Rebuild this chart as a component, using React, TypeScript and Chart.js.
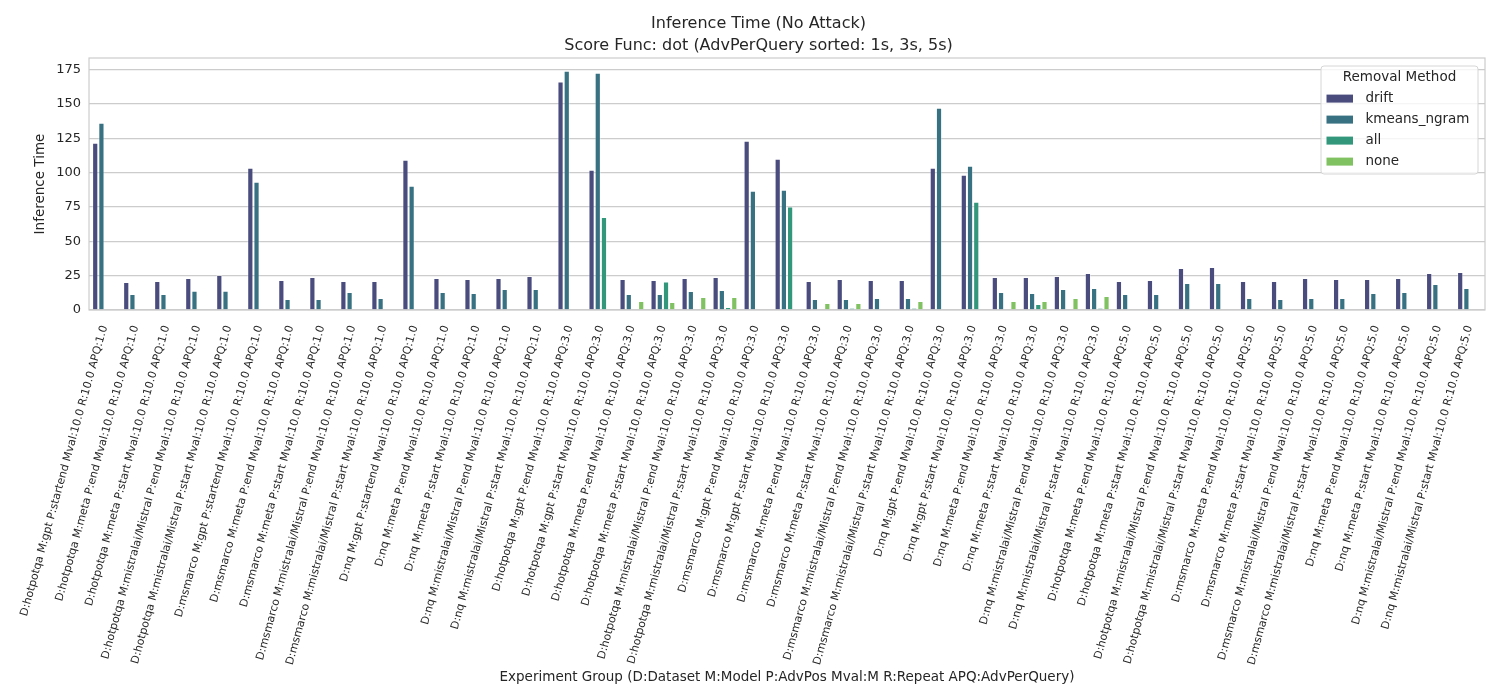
import { useEffect, useRef } from "react";
import { Chart, registerables } from "chart.js";

Chart.register(...registerables);

const groups = [
  "D:hotpotqa M:gpt P:startend Mval:10.0 R:10.0 APQ:1.0",
  "D:hotpotqa M:meta P:end Mval:10.0 R:10.0 APQ:1.0",
  "D:hotpotqa M:meta P:start Mval:10.0 R:10.0 APQ:1.0",
  "D:hotpotqa M:mistralai/Mistral P:end Mval:10.0 R:10.0 APQ:1.0",
  "D:hotpotqa M:mistralai/Mistral P:start Mval:10.0 R:10.0 APQ:1.0",
  "D:msmarco M:gpt P:startend Mval:10.0 R:10.0 APQ:1.0",
  "D:msmarco M:meta P:end Mval:10.0 R:10.0 APQ:1.0",
  "D:msmarco M:meta P:start Mval:10.0 R:10.0 APQ:1.0",
  "D:msmarco M:mistralai/Mistral P:end Mval:10.0 R:10.0 APQ:1.0",
  "D:msmarco M:mistralai/Mistral P:start Mval:10.0 R:10.0 APQ:1.0",
  "D:nq M:gpt P:startend Mval:10.0 R:10.0 APQ:1.0",
  "D:nq M:meta P:end Mval:10.0 R:10.0 APQ:1.0",
  "D:nq M:meta P:start Mval:10.0 R:10.0 APQ:1.0",
  "D:nq M:mistralai/Mistral P:end Mval:10.0 R:10.0 APQ:1.0",
  "D:nq M:mistralai/Mistral P:start Mval:10.0 R:10.0 APQ:1.0",
  "D:hotpotqa M:gpt P:end Mval:10.0 R:10.0 APQ:3.0",
  "D:hotpotqa M:gpt P:start Mval:10.0 R:10.0 APQ:3.0",
  "D:hotpotqa M:meta P:end Mval:10.0 R:10.0 APQ:3.0",
  "D:hotpotqa M:meta P:start Mval:10.0 R:10.0 APQ:3.0",
  "D:hotpotqa M:mistralai/Mistral P:end Mval:10.0 R:10.0 APQ:3.0",
  "D:hotpotqa M:mistralai/Mistral P:start Mval:10.0 R:10.0 APQ:3.0",
  "D:msmarco M:gpt P:end Mval:10.0 R:10.0 APQ:3.0",
  "D:msmarco M:gpt P:start Mval:10.0 R:10.0 APQ:3.0",
  "D:msmarco M:meta P:end Mval:10.0 R:10.0 APQ:3.0",
  "D:msmarco M:meta P:start Mval:10.0 R:10.0 APQ:3.0",
  "D:msmarco M:mistralai/Mistral P:end Mval:10.0 R:10.0 APQ:3.0",
  "D:msmarco M:mistralai/Mistral P:start Mval:10.0 R:10.0 APQ:3.0",
  "D:nq M:gpt P:end Mval:10.0 R:10.0 APQ:3.0",
  "D:nq M:gpt P:start Mval:10.0 R:10.0 APQ:3.0",
  "D:nq M:meta P:end Mval:10.0 R:10.0 APQ:3.0",
  "D:nq M:meta P:start Mval:10.0 R:10.0 APQ:3.0",
  "D:nq M:mistralai/Mistral P:end Mval:10.0 R:10.0 APQ:3.0",
  "D:nq M:mistralai/Mistral P:start Mval:10.0 R:10.0 APQ:3.0",
  "D:hotpotqa M:meta P:end Mval:10.0 R:10.0 APQ:5.0",
  "D:hotpotqa M:meta P:start Mval:10.0 R:10.0 APQ:5.0",
  "D:hotpotqa M:mistralai/Mistral P:end Mval:10.0 R:10.0 APQ:5.0",
  "D:hotpotqa M:mistralai/Mistral P:start Mval:10.0 R:10.0 APQ:5.0",
  "D:msmarco M:meta P:end Mval:10.0 R:10.0 APQ:5.0",
  "D:msmarco M:meta P:start Mval:10.0 R:10.0 APQ:5.0",
  "D:msmarco M:mistralai/Mistral P:end Mval:10.0 R:10.0 APQ:5.0",
  "D:msmarco M:mistralai/Mistral P:start Mval:10.0 R:10.0 APQ:5.0",
  "D:nq M:meta P:end Mval:10.0 R:10.0 APQ:5.0",
  "D:nq M:meta P:start Mval:10.0 R:10.0 APQ:5.0",
  "D:nq M:mistralai/Mistral P:end Mval:10.0 R:10.0 APQ:5.0",
  "D:nq M:mistralai/Mistral P:start Mval:10.0 R:10.0 APQ:5.0",
];

const methods = ["drift", "kmeans_ngram", "all", "none"];

const drift = [
  121.8, 20.4, 21.1, 23.3, 25.5, 103.5, 21.9, 24.1, 21.1, 21.1,
  109.4, 23.3, 22.6, 23.3, 24.8, 166.3, 102.1, 22.6, 21.9, 23.3,
  24.1, 123.2, 110.1, 21.1, 22.6, 21.9, 21.9, 103.5, 98.4, 24.1,
  24.1, 24.8, 27.0, 21.1, 21.9, 30.6, 31.4, 21.1, 21.1, 23.3,
  22.6, 22.6, 23.3, 27.0, 27.7,
];

const kmeansNgram = [
  136.4, 11.7, 11.7, 14.1, 14.1, 93.3, 8.0, 8.0, 13.1, 8.8,
  90.4, 13.1, 12.4, 15.3, 15.3, 174.3, 172.8, 11.7, 11.7, 13.9,
  14.6, 86.8, 87.5, 8.0, 8.0, 8.8, 8.8, 147.3, 105.0, 13.1,
  12.4, 15.3, 16.0, 11.7, 11.7, 19.7, 19.7, 8.8, 8.0, 8.8,
  8.8, 12.4, 13.1, 19.0, 16.0,
];

const allRemoved = [
  null, null, null, null, null, null, null, null, null, null,
  null, null, null, null, null, null, 67.8, null, 20.8, null,
  2.2, null, 75.3, null, 1.5, null, 1.5, null, 78.8, null,
  4.4, null, 1.5, null, null, null, null, null, null, null,
  null, null, null, null, null,
];

const noneRemoved = [
  null, null, null, null, null, null, null, null, null, null,
  null, null, null, null, null, null, null, 6.6, 5.8, 9.5,
  9.5, null, null, 5.1, 5.1, null, 6.6, null, null, 6.6,
  6.6, 8.8, 10.2, null, null, null, null, null, null, null,
  null, null, null, null, null,
];

const yTicks = [0, 25, 50, 75, 100, 125, 150, 175];

const colors = ["#4a4c7e", "#377182", "#33977c", "#80c161"];
const font = "'DejaVu Sans', sans-serif";
const textColor = "#262626";

const frameAndLegend = {
  id: "frameAndLegend",
  afterDatasetsDraw(chart: any) {
    const { ctx, chartArea } = chart;
    ctx.save();
    ctx.strokeStyle = "#cccccc";
    ctx.lineWidth = 1.2;
    ctx.strokeRect(chartArea.left, chartArea.top, chartArea.right - chartArea.left, chartArea.bottom - chartArea.top);
    ctx.restore();
  },
  afterDraw(chart: any) {
    const { ctx, chartArea } = chart;
    const w = 157;
    const h = 108;
    const x = chartArea.right - 7 - w;
    const y = chartArea.top + 8;
    ctx.save();
    ctx.fillStyle = "rgba(255,255,255,0.8)";
    ctx.strokeStyle = "#d6d6d6";
    ctx.lineWidth = 1;
    ctx.beginPath();
    ctx.roundRect(x, y, w, h, 3);
    ctx.fill();
    ctx.stroke();
    ctx.font = `13.5px ${font}`;
    ctx.fillStyle = textColor;
    ctx.textAlign = "center";
    ctx.textBaseline = "middle";
    ctx.fillText("Removal Method", x + w / 2, y + 11);
    chart.data.datasets.forEach((ds: any, i: number) => {
      const cy = y + 32.6 + i * 21;
      ctx.fillStyle = ds.backgroundColor;
      ctx.fillRect(x + 5.5, cy - 4, 26.5, 8);
      ctx.fillStyle = textColor;
      ctx.textAlign = "left";
      ctx.fillText(ds.label, x + 44.5, cy);
    });
    ctx.restore();
  },
};

export default function App() {
  const canvasRef = useRef<HTMLCanvasElement>(null);

  useEffect(() => {
    document.body.style.margin = "0";
    if (!canvasRef.current) return;
    const series = [drift, kmeansNgram, allRemoved, noneRemoved];
    const chart = new Chart(canvasRef.current, {
      type: "bar",
      data: {
        labels: groups,
        datasets: methods.map((m, i) => ({
          label: m,
          data: series[i] as any,
          backgroundColor: colors[i],
          borderColor: "rgba(255,255,255,0.35)",
          borderWidth: 1,
          categoryPercentage: 0.8,
          barPercentage: 1.0,
        })),
      },
      options: {
        responsive: true,
        maintainAspectRatio: false,
        animation: false,
        layout: { padding: { left: 32, right: 15, top: 0, bottom: 14 } },
        plugins: {
          legend: { display: false },
          tooltip: { enabled: false },
          title: {
            display: true,
            text: ["Inference Time (No Attack)", "Score Func: dot (AdvPerQuery sorted: 1s, 3s, 5s)"],
            color: textColor,
            font: { family: font, size: 16, weight: "normal", lineHeight: 1.375 },
            padding: { top: 13, bottom: 1 },
          },
        },
        scales: {
          x: {
            grid: { display: false },
            border: { display: false },
            afterFit: (scale: any) => {
              scale.height = 376;
            },
            ticks: {
              color: textColor,
              font: { family: font, size: 11 },
              minRotation: 74.5,
              maxRotation: 74.5,
              autoSkip: false,
              padding: 6,
            },
            title: {
              display: true,
              text: "Experiment Group (D:Dataset M:Model P:AdvPos Mval:M R:Repeat APQ:AdvPerQuery)",
              color: textColor,
              font: { family: font, size: 13.5 },
              padding: { top: 8, bottom: 0 },
            },
          },
          y: {
            min: 0,
            max: 183.5,
            afterBuildTicks: (axis: any) => {
              axis.ticks = yTicks.map((v) => ({ value: v }));
            },
            grid: { color: "#cccccc", lineWidth: 1.2, drawTicks: false },
            border: { display: false },
            ticks: {
              color: textColor,
              font: { family: font, size: 13 },
              padding: 8,
            },
            title: {
              display: true,
              text: "Inference Time",
              color: textColor,
              font: { family: font, size: 13.5 },
              padding: { top: 0, bottom: 0 },
            },
          },
        },
      },
      plugins: [frameAndLegend],
    });
    return () => chart.destroy();
  }, []);

  return (
    <div style={{ width: 1500, height: 700, position: "relative", background: "#ffffff" }}>
      <canvas ref={canvasRef} />
    </div>
  );
}
